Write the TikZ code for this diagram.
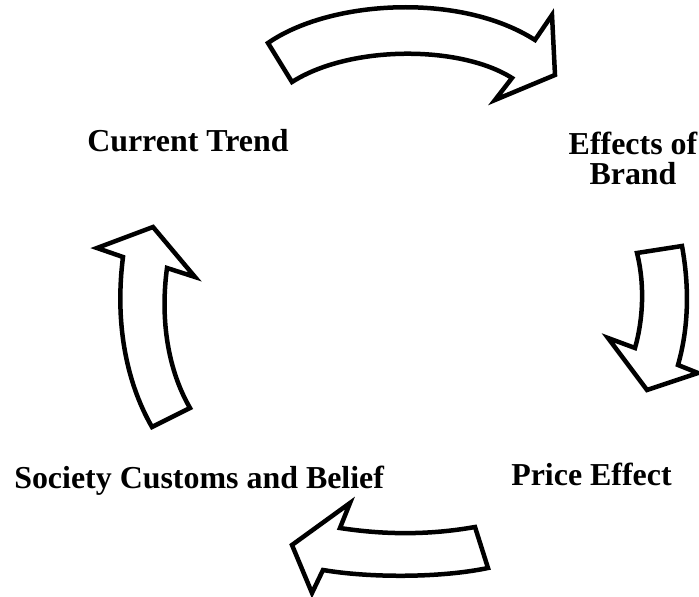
\documentclass[tikz,border=0pt]{standalone}
\usepackage{fontspec}
\setmainfont{Liberation Serif}

\tikzset{
  blockarrow/.style={draw=black, fill=white, line width=3.2pt, line join=miter},
  steplabel/.style={font={\fontsize{22.7}{21.3}\selectfont\bfseries}, inner sep=0pt}
}

\begin{document}
\begin{tikzpicture}[x=0.025cm, y=-0.025cm]
    \useasboundingbox (0,0) rectangle (699,597);

    % the four stages of the cycle
    \node[steplabel, anchor=base west] (trend) at (87,152) {Current Trend};
    \node[steplabel, anchor=north, align=center] (brand) at (633,132) {Effects of\\Brand};
    \node[steplabel, anchor=base west] (price) at (511,486) {Price Effect};
    \node[steplabel, anchor=base west] (society) at (14,488) {Society Customs and Belief};

    % curved block arrows between them, clockwise
    \draw[blockarrow] (268,43) .. controls (330,0) and (460,-8) .. (535,40)
    	-- (552,15) -- (555,75) -- (495,100) -- (512,78)
    	.. controls (460,45) and (350,45) .. (292,82) -- cycle;
    \draw[blockarrow] (637,253) -- (682,246) .. controls (690,290) and (688,330) .. (678,365)
    	-- (698,373) -- (647,390) -- (608,338) -- (635,348)
    	.. controls (643,320) and (645,285) .. (637,253) -- cycle;
    \draw[blockarrow] (350,503) -- (340,528) .. controls (385,535) and (430,535) .. (475,527)
    	-- (488,568) .. controls (440,578) and (370,578) .. (323,570)
    	-- (312,593) -- (292,545) -- cycle;
    \draw[blockarrow] (153,227) -- (97,248) -- (123,257) .. controls (115,320) and (125,380) .. (152,427)
    	-- (190,408) .. controls (168,370) and (160,320) .. (167,268)
    	-- (195,277) -- cycle;
\end{tikzpicture}
\end{document}
